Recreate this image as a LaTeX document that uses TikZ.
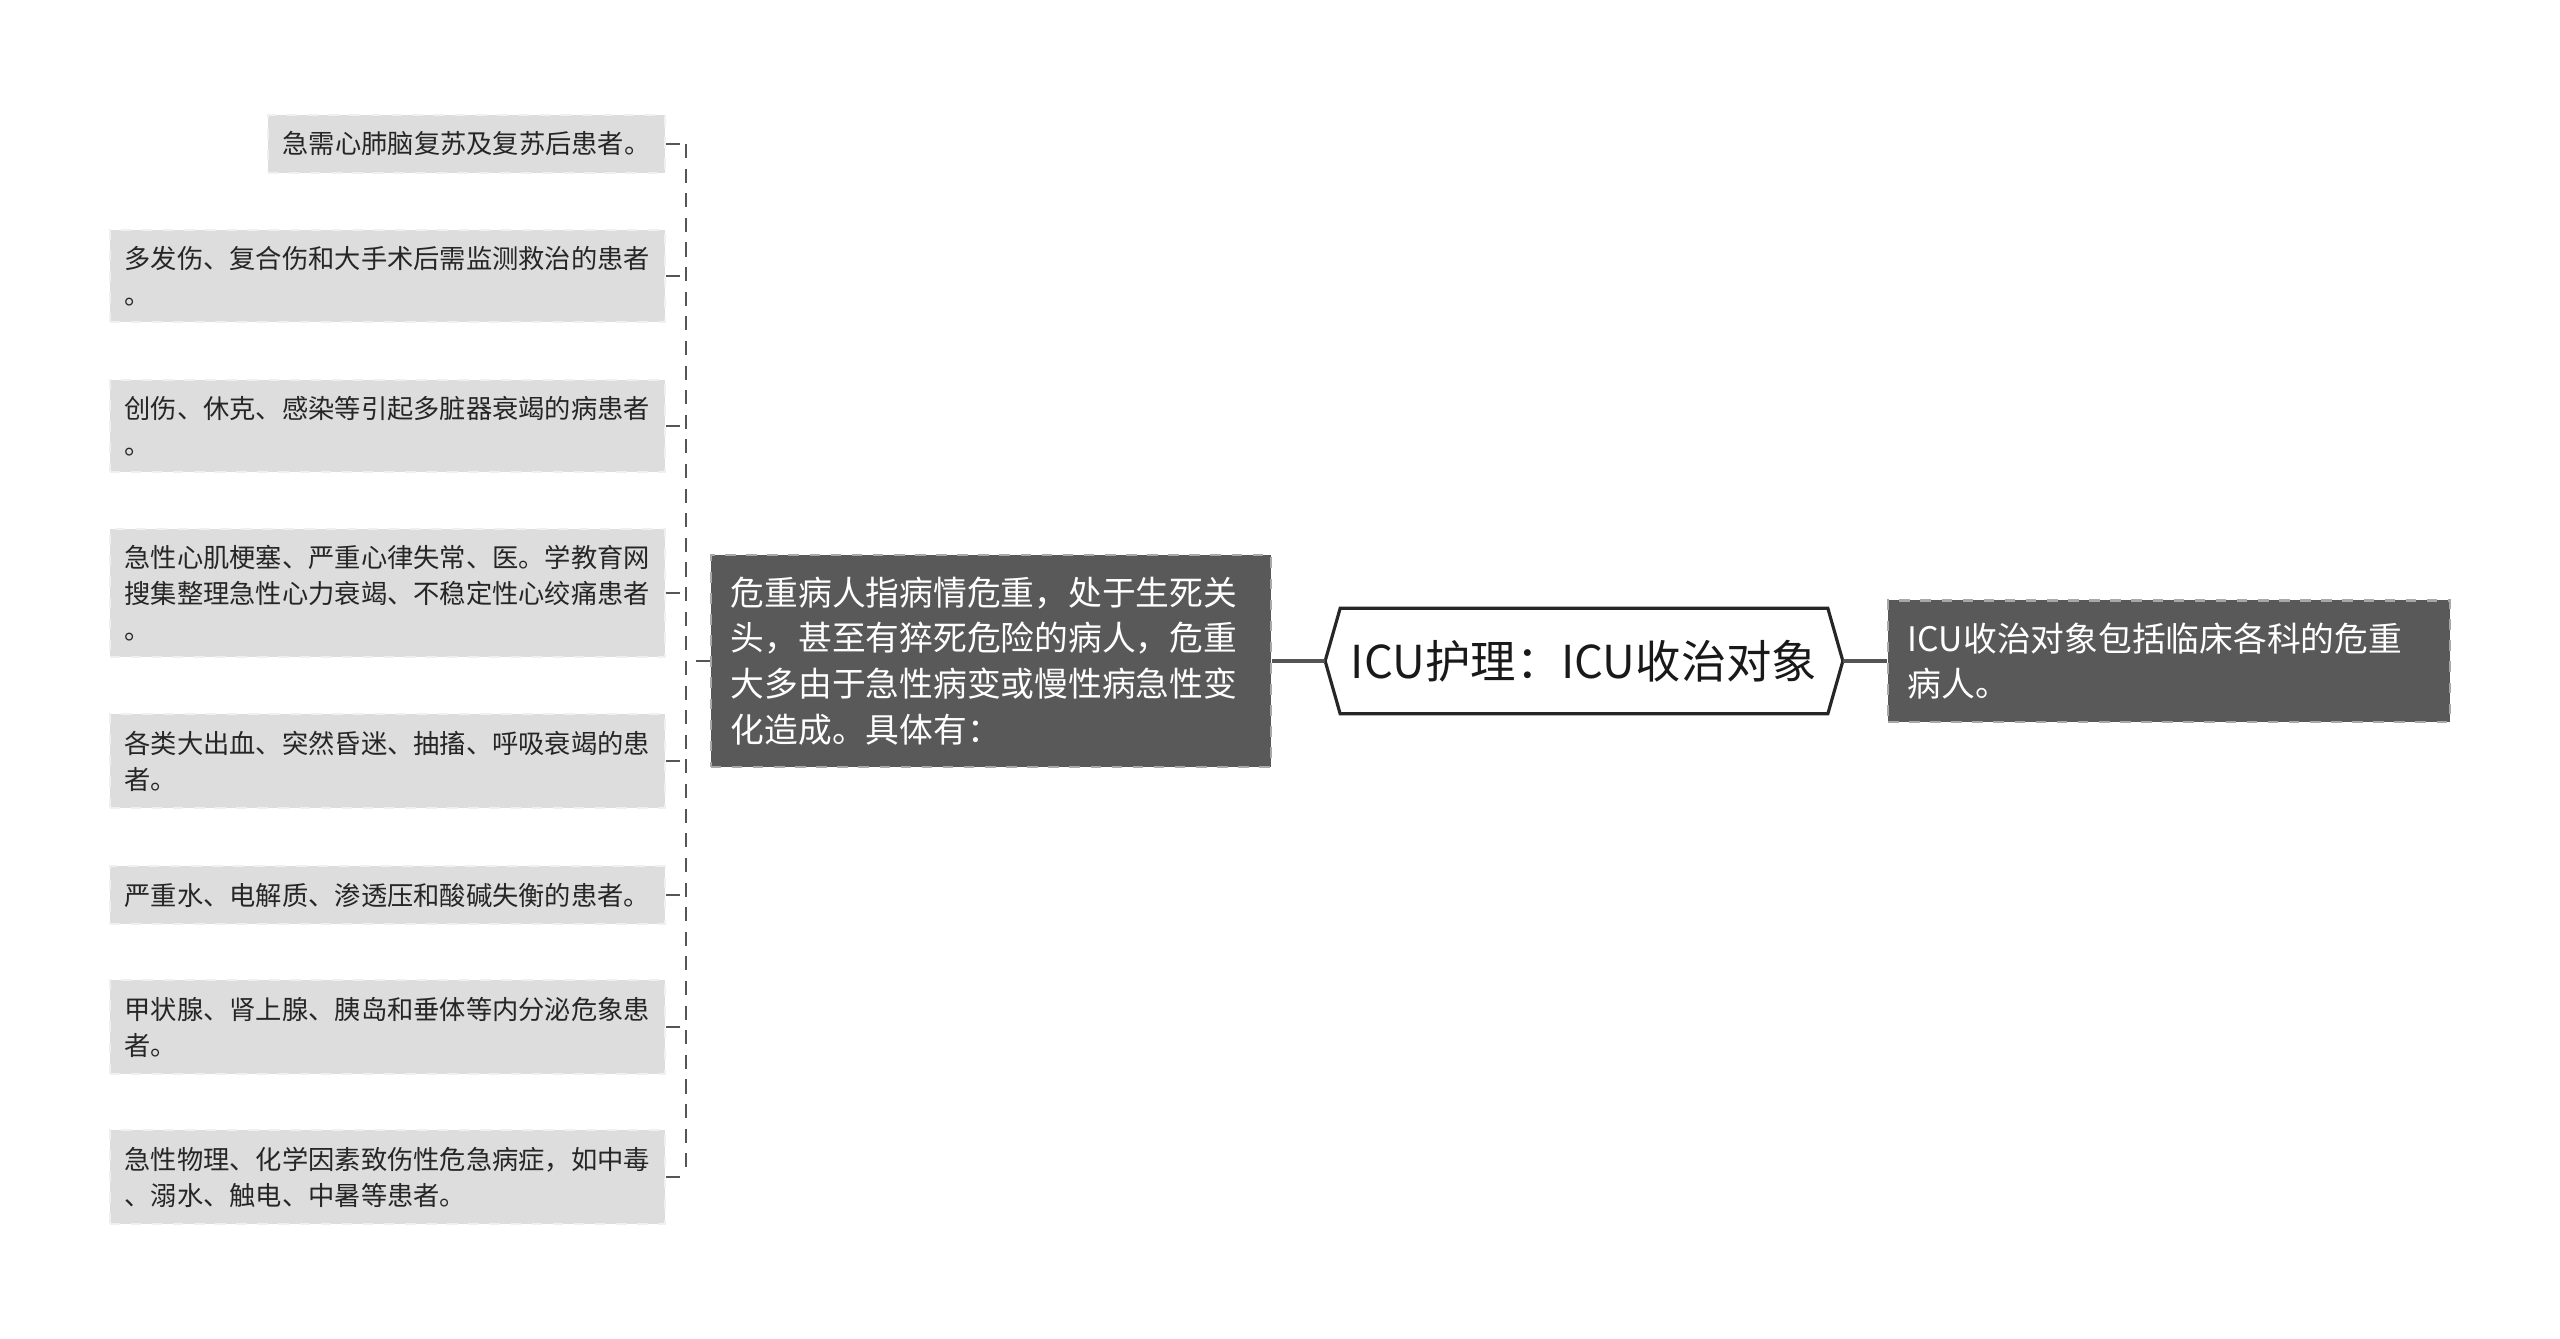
\documentclass[tikz,border=0pt]{standalone}
\usepackage{fontspec}
\setmainfont{Noto Sans CJK SC}
\usetikzlibrary{positioning}
\definecolor{leaffill}{HTML}{DDDDDD}
\definecolor{leafline}{HTML}{F0F0F0}
\definecolor{darkfill}{HTML}{595959}
\definecolor{darkline}{HTML}{A8A8A8}
\definecolor{linkgray}{HTML}{555555}

\begin{document}
\begin{tikzpicture}[x=0.01cm, y=-0.01cm,
    leaf/.style={fill=leaffill, draw=leafline, dashed, line width=0.6pt, anchor=east,
      align=left, text width=5.25cm, inner xsep=0.15cm, inner ysep=0.165cm,
      text=black!85, font=\fontsize{7.47pt}{10.2pt}\selectfont},
    darkbox/.style={fill=darkfill, draw=darkline, dashed, line width=0.6pt, align=left,
      text=white, inner xsep=0.2cm, inner ysep=0.22cm, font=\fontsize{9.6pt}{13pt}\selectfont},
    link/.style={draw=linkgray, line width=0.9pt},
    tick/.style={draw=linkgray, line width=0.6pt, dash pattern=on 4pt off 3pt}]
  \useasboundingbox (0,0) rectangle (2560,1338);

  \node[minimum width=5.16cm, minimum height=1.04cm, inner sep=0pt, text=black!90,
        font=\fontsize{12.9pt}{15pt}\selectfont] (root) at (1584,661) {ICU护理：ICU收治对象};
  \draw[line width=0.9pt, draw=black!85] (root.west) -- ([xshift=0.15cm]root.north west)
    -- ([xshift=-0.15cm]root.north east) -- (root.east)
    -- ([xshift=-0.15cm]root.south east) -- ([xshift=0.15cm]root.south west) -- cycle;

  \node[darkbox, text width=5.22cm, right=0.44cm of root] (info) {ICU收治对象包括临床各科的危重\\病人。};
  \node[darkbox, text width=5.2cm, left=0.53cm of root] (mid) {危重病人指病情危重，处于生死关\\头，甚至有猝死危险的病人，危重\\大多由于急性病变或慢性病急性变\\化造成。具体有：};

  \node[leaf, text width=3.67cm] (l1) at (666,144) {急需心肺脑复苏及复苏后患者。};
  \node[leaf] (l2) at (666,276) {多发伤、复合伤和大手术后需监测救治的患者\\。};
  \node[leaf] (l3) at (666,426) {创伤、休克、感染等引起多脏器衰竭的病患者\\。};
  \node[leaf] (l4) at (666,593) {急性心肌梗塞、严重心律失常、医。学教育网\\搜集整理急性心力衰竭、不稳定性心绞痛患者\\。};
  \node[leaf] (l5) at (666,761) {各类大出血、突然昏迷、抽搐、呼吸衰竭的患\\者。};
  \node[leaf] (l6) at (666,895) {严重水、电解质、渗透压和酸碱失衡的患者。};
  \node[leaf] (l7) at (666,1027) {甲状腺、肾上腺、胰岛和垂体等内分泌危象患\\者。};
  \node[leaf] (l8) at (666,1177) {急性物理、化学因素致伤性危急病症，如中毒\\、溺水、触电、中暑等患者。};

  \draw[link] (root.west) -- (mid.east);
  \draw[link] (root.east) -- (info.west);
  \coordinate (bus) at ([xshift=-0.24cm]mid.west);
  \draw[tick] (mid.west) -- (bus);
  \draw[tick] (bus |- l1.east) -- (bus |- l8.east);
  \foreach \i in {1,...,8}
    \draw[tick] (l\i.east) -- (bus |- l\i.east);
\end{tikzpicture}
\end{document}
